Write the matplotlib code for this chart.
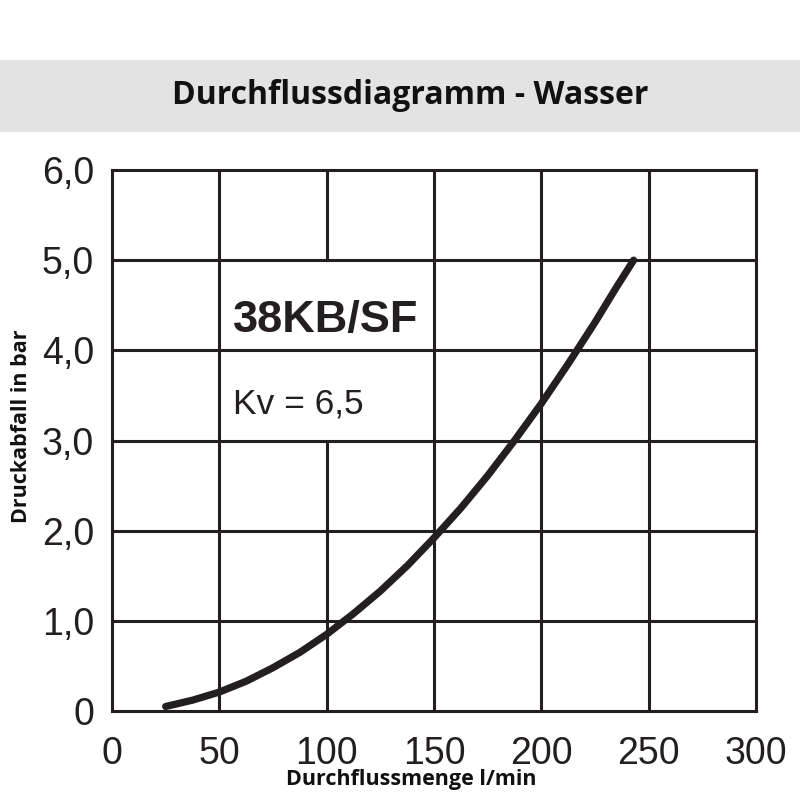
import matplotlib.pyplot as plt
from matplotlib.patches import Rectangle

# Durchfluss (l/min) und Druckabfall (bar)
durchfluss = [25, 37.5, 50, 62.5, 75, 87.5, 100, 112.5, 125, 137.5, 150,
              162.5, 175, 187.5, 200, 212.5, 225, 235, 243]
druckabfall = [0.05, 0.12, 0.21, 0.33, 0.48, 0.65, 0.85, 1.08, 1.33, 1.61, 1.92,
               2.25, 2.61, 3.00, 3.41, 3.85, 4.31, 4.70, 5.00]

x_ticks = [0, 50, 100, 150, 200, 250, 300]
y_ticks = [0, 1, 2, 3, 4, 5, 6]
y_tick_labels = ['0', '1,0', '2,0', '3,0', '4,0', '5,0', '6,0']

dark = '#231f20'

fig = plt.figure(figsize=(8, 8), dpi=100)

# grauer Titelbalken
fig.patches.append(Rectangle((0, 1 - 132 / 800), 1, 72 / 800, transform=fig.transFigure,
                             facecolor='#e3e3e3', edgecolor='none', zorder=0))
fig.text(410 / 800, 1 - 96 / 800, 'Durchflussdiagramm - Wasser', ha='center', va='center',
         fontsize=23, fontweight='bold', family='Open Sans', color='#111111')

ax = fig.add_axes([112 / 800, 1 - 711 / 800, 644 / 800, 541 / 800])
ax.set_xlim(0, 300)
ax.set_ylim(0, 6)

# Gitter (bei x=100 zwischen 3,0 und 5,0 ausgespart, dort steht die Beschriftung)
for xv in x_ticks[1:-1]:
    if xv == 100:
        ax.axvline(xv, ymin=0, ymax=3 / 6, color=dark, lw=2.2, zorder=1)
        ax.axvline(xv, ymin=5 / 6, ymax=1, color=dark, lw=2.2, zorder=1)
    else:
        ax.axvline(xv, color=dark, lw=2.2, zorder=1)
for yv in y_ticks[1:-1]:
    ax.axhline(yv, color=dark, lw=2.2, zorder=1)

for s in ax.spines.values():
    s.set_color(dark)
    s.set_linewidth(2.2)

ax.plot(durchfluss, druckabfall, color=dark, lw=5.2, solid_capstyle='round',
        solid_joinstyle='round', zorder=3)

ax.set_xticks(x_ticks)
ax.set_xticklabels([str(v) for v in x_ticks], family='Liberation Sans', fontsize=27, color=dark)
ax.set_yticks(y_ticks)
ax.set_yticklabels(y_tick_labels, family='Liberation Sans', fontsize=27, color=dark)
ax.tick_params(length=0)
ax.tick_params(axis='x', pad=18)
ax.tick_params(axis='y', pad=13)

ax.text(228 / 644 * 300 - 50, 4.2, '38KB/SF', fontsize=32.5, fontweight='bold', family='Liberation Sans',
        color=dark, va='baseline', ha='left', zorder=4)
ax.text(228 / 644 * 300 - 50, 3.3, 'Kv = 6,5', fontsize=25.5, family='Liberation Sans',
        color=dark, va='baseline', ha='left', zorder=4)

fig.text(411 / 800, 1 - 780 / 800, 'Durchflussmenge l/min', ha='center', va='center',
         fontsize=15.5, fontweight='bold', family='Open Sans', color='#111111')
fig.text(22 / 800, 1 - 426 / 800, 'Druckabfall in bar', ha='center', va='center', rotation=90,
         fontsize=15.5, fontweight='bold', family='Open Sans', color='#111111')

fig.savefig('out.png', dpi=100)
